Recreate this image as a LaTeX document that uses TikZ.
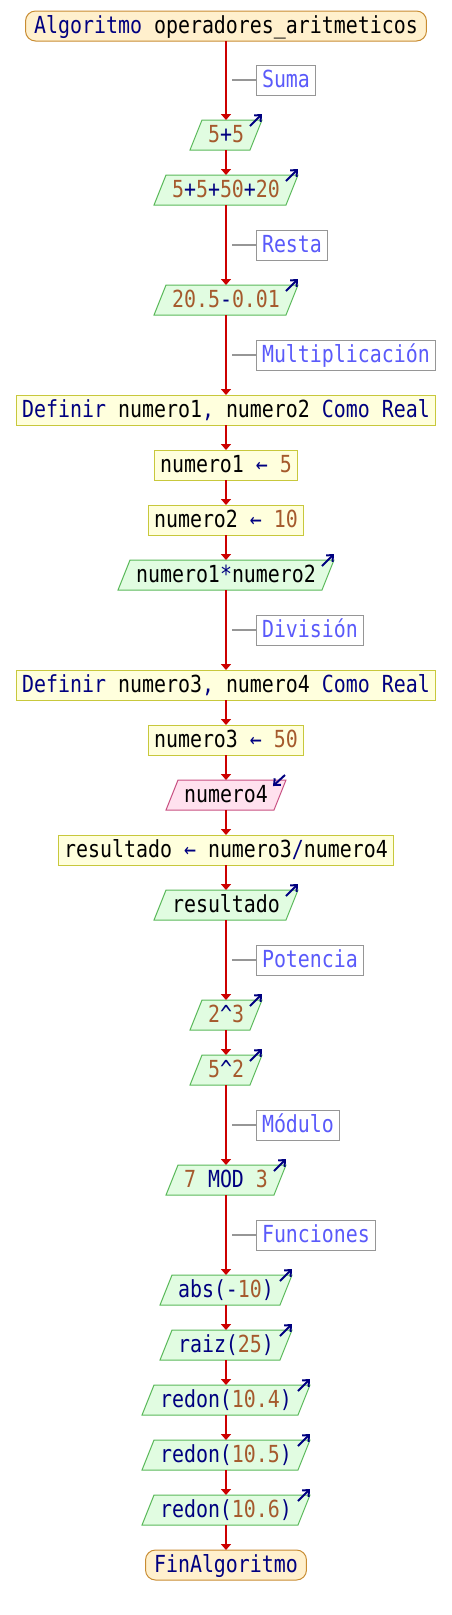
\documentclass[tikz,border=0pt]{standalone}
\usepackage{fontspec}
\setmonofont[FakeStretch=0.848]{DejaVu Sans Mono}
\usepackage{tikz}
\usetikzlibrary{arrows.meta}
\usetikzlibrary{calc}
\pgfdeclarelayer{fondo}
\pgfsetlayers{fondo,main}
\definecolor{flecha}{RGB}{204,0,0}
\definecolor{clave}{RGB}{0,0,128}
\definecolor{numero}{RGB}{165,90,45}
\definecolor{coment}{RGB}{90,90,250}
\definecolor{gris}{RGB}{150,150,150}
\definecolor{termfill}{RGB}{255,240,205}
\definecolor{termline}{RGB}{200,140,50}
\definecolor{procfill}{RGB}{255,255,221}
\definecolor{procline}{RGB}{200,200,60}
\definecolor{salfill}{RGB}{225,252,225}
\definecolor{salline}{RGB}{90,185,90}
\definecolor{entfill}{RGB}{255,225,238}
\definecolor{entline}{RGB}{200,80,130}
\newcommand{\kw}[1]{\textcolor{clave}{#1}}
\newcommand{\nm}[1]{\textcolor{numero}{#1}}
\tikzset{
  base/.style={font=\ttfamily\fontsize{23.5pt}{26pt}\selectfont, text height=18pt, text depth=3pt,
    minimum height=30pt, inner ysep=3pt, outer sep=0pt, line width=1pt},
  terminal/.style={base, rectangle, rounded corners=10pt, draw=termline, fill=termfill, inner xsep=8.5pt},
  proceso/.style={base, rectangle, draw=procline, fill=procfill, inner xsep=6pt},
  salida/.style={base, rectangle, inner xsep=12pt},
  paralelo/.style={line width=1pt, draw=salline, fill=salfill},
  nota/.style={base, rectangle, draw=gris, text=coment, inner xsep=6pt, anchor=west},
  flujo/.style={draw=flecha, line width=2pt, -{Triangle[width=10pt,length=6pt]}},
  enlace/.style={draw=gris, line width=1.5pt},
  io/.style={draw=clave, line width=2pt, -{Straight Barb[length=5pt,width=9pt]}}
}
\begin{document}
\begin{tikzpicture}[x=1pt,y=-1pt]
        \useasboundingbox (0,0) rectangle (452,1615);
        \node[terminal] (inicio) at (226,26) {\kw{Algoritmo} operadores\_aritmeticos};
        \node[salida] (o1) at (226,135) {\nm{5}\kw{+}\nm{5}};
        \node[salida] (o2) at (226,190) {\nm{5}\kw{+}\nm{5}\kw{+}\nm{50}\kw{+}\nm{20}};
        \node[salida] (o3) at (226,300) {\nm{20.5}\kw{-}\nm{0.01}};
        \node[proceso] (d1) at (226,410) {\kw{Definir} numero1\kw{,} numero2 \kw{Como Real}};
        \node[proceso] (a1) at (226,465) {numero1 \kw{←} \nm{5}};
        \node[proceso] (a2) at (226,520) {numero2 \kw{←} \nm{10}};
        \node[salida] (o4) at (226,575) {numero1\kw{*}numero2};
        \node[proceso] (d2) at (226,685) {\kw{Definir} numero3\kw{,} numero4 \kw{Como Real}};
        \node[proceso] (a3) at (226,740) {numero3 \kw{←} \nm{50}};
        \node[salida] (e1) at (226,795) {numero4};
        \node[proceso] (a4) at (226,850) {resultado \kw{←} numero3\kw{/}numero4};
        \node[salida] (o5) at (226,905) {resultado};
        \node[salida] (o6) at (226,1015) {\nm{2}\kw{\textasciicircum}\nm{3}};
        \node[salida] (o7) at (226,1070) {\nm{5}\kw{\textasciicircum}\nm{2}};
        \node[salida] (o8) at (226,1180) {\nm{7} \kw{MOD} \nm{3}};
        \node[salida] (o9) at (226,1290) {\kw{abs(-}\nm{10}\kw{)}};
        \node[salida] (o10) at (226,1345) {\kw{raiz(}\nm{25}\kw{)}};
        \node[salida] (o11) at (226,1400) {\kw{redon(}\nm{10.4}\kw{)}};
        \node[salida] (o12) at (226,1455) {\kw{redon(}\nm{10.5}\kw{)}};
        \node[salida] (o13) at (226,1510) {\kw{redon(}\nm{10.6}\kw{)}};
        \node[terminal] (fin) at (226,1565) {\kw{FinAlgoritmo}};
        \begin{pgfonlayer}{fondo}
            \foreach \n in {o1,o2,o3,o4,o5,o6,o7,o8,o9,o10,o11,o12,o13}
                \draw[paralelo] ($(\n.south west)+(-6,0)$) -- ($(\n.south east)+(-6,0)$) -- ($(\n.north east)+(6,0)$) -- ($(\n.north west)+(6,0)$) -- cycle;
            \draw[paralelo, draw=entline, fill=entfill] ($(e1.south west)+(-6,0)$) -- ($(e1.south east)+(-6,0)$) -- ($(e1.north east)+(6,0)$) -- ($(e1.north west)+(6,0)$) -- cycle;
        \end{pgfonlayer}
        \node[nota] (suma) at (256,80) {Suma};
        \node[nota] (resta) at (256,245) {Resta};
        \node[nota] (mult) at (256,355) {Multiplicación};
        \node[nota] (divi) at (256,630) {División};
        \node[nota] (pote) at (256,960) {Potencia};
        \node[nota] (modu) at (256,1125) {Módulo};
        \node[nota] (func) at (256,1235) {Funciones};
        \foreach \n in {suma,resta,mult,divi,pote,modu,func}
            \draw[enlace] ($(\n.west)+(-24,0)$) -- (\n.west);
        \foreach \a/\b in {inicio/o1,o1/o2,o2/o3,o3/d1,d1/a1,a1/a2,a2/o4,o4/d2,d2/a3,a3/e1,e1/a4,a4/o5,o5/o6,o6/o7,o7/o8,o8/o9,o9/o10,o10/o11,o11/o12,o12/o13,o13/fin}
            \draw[flujo] (\a.south) -- (\b.north);
        \foreach \n in {o1,o2,o3,o4,o5,o6,o7,o8,o9,o10,o11,o12,o13}
            \draw[io] ($(\n.north east)+(-6,6)$) -- ($(\n.north east)+(6,-6)$);
        \draw[io] ($(e1.north east)+(5,-5)$) -- ($(e1.north east)+(-7,6)$);
    \end{tikzpicture}
\end{document}
